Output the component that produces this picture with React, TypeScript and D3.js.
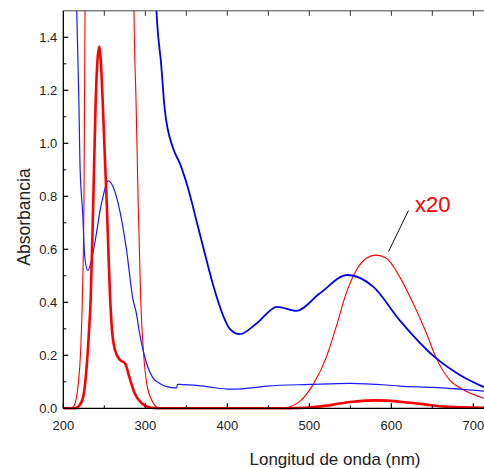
import React from "react";
import * as d3 from "d3";

// wavelength (nm) / absorbance pairs
const blueThinNm = [213, 216.4, 219, 220.2, 222.2, 223.4, 226.2, 230, 234.4, 240.4, 244.5, 248.5, 254.6, 260.7, 266.8, 277, 285, 289, 293, 301.5, 309.5, 317.7, 326, 338, 339.3, 341, 374.6, 403, 435.6, 447.8, 500.6, 549.4, 594, 610, 651, 713];
const blueThinAbs = [2.2, 1.5, 1.16, 0.94, 0.8, 0.75, 0.57, 0.52, 0.56, 0.66, 0.74, 0.8, 0.858, 0.836, 0.774, 0.6, 0.41, 0.36, 0.284, 0.171, 0.114, 0.094, 0.082, 0.077, 0.09, 0.09, 0.082, 0.072, 0.079, 0.084, 0.09, 0.094, 0.088, 0.084, 0.079, 0.065];

const blueThickNm = [311, 313.6, 319.4, 323.8, 334, 342, 354, 363, 372.5, 382.7, 394.9, 403, 415.2, 435.6, 460.7, 484.5, 512.8, 546.6, 577.8, 610, 653.8, 683.5, 713];
const blueThickAbs = [1.7, 1.5, 1.295, 1.126, 0.98, 0.925, 0.81, 0.7, 0.585, 0.465, 0.35, 0.3, 0.28, 0.32, 0.383, 0.368, 0.434, 0.503, 0.459, 0.333, 0.191, 0.126, 0.08];

const redThinNm = [200, 208, 212.2, 216, 218.3, 221.2, 223.2, 225.2, 226.5, 228, 235, 280, 284.5, 286.2, 288.7, 291.5, 294.5, 297.6, 301.7, 307.8, 313.9, 320, 460, 470, 488, 505.5, 521, 533, 545, 557.5, 569.6, 581, 594, 610, 626.6, 642.8, 654, 671, 687.6, 713];
const redThinAbs = [0, 0, 0.006, 0.04, 0.094, 0.22, 0.41, 0.79, 1.5, 2.4, 6, 6, 2.4, 1.5, 1.16, 0.75, 0.4, 0.22, 0.094, 0.031, 0.005, 0, 0, 0.002, 0.025, 0.094, 0.195, 0.31, 0.434, 0.522, 0.566, 0.578, 0.566, 0.497, 0.396, 0.283, 0.195, 0.107, 0.07, 0.038];

const redThickNm = [200, 214, 216.3, 220, 224.4, 228.5, 231.7, 233.4, 236.6, 239.5, 243.9, 248, 250, 253, 257.5, 259, 263, 269.3, 275.2, 281, 287, 295.6, 305.7, 315, 470, 485, 505.5, 521, 533, 545, 557.5, 569.6, 581, 594, 610, 626.6, 642.8, 654, 671, 687.6, 713];
const redThickAbs = [0, 0, 0.002, 0.012, 0.044, 0.157, 0.31, 0.41, 0.79, 1.16, 1.365, 1.16, 1.0, 0.77, 0.39, 0.31, 0.22, 0.182, 0.17, 0.113, 0.057, 0.019, 0.003, 0, 0, 0.001, 0.005, 0.01, 0.016, 0.022, 0.026, 0.029, 0.03, 0.029, 0.025, 0.02, 0.014, 0.0098, 0.0055, 0.0036, 0.002];

const yTickLabels = ["0.0", "0.2", "0.4", "0.6", "0.8", "1.0", "1.2", "1.4"];
const xTickLabels = ["200", "300", "400", "500", "600", "700"];

const W = 484;
const H = 468;
const FONT = "'Liberation Sans', Arial, sans-serif";

const x = d3.scaleLinear().domain([200, 713]).range([63.3, 484]);
const y = d3.scaleLinear().domain([0, 1.5]).range([408.3, 10.8]);

const line = d3
  .line<[number, number]>()
  .x(d => x(d[0]))
  .y(d => y(d[1]))
  .curve(d3.curveMonotoneX);

const zip = (a: number[], b: number[]) => a.map((v, i) => [v, b[i]] as [number, number]);

const series = [
  { nm: redThinNm, abs: redThinAbs, color: "#ff0000", width: 1.1 },
  { nm: blueThinNm, abs: blueThinAbs, color: "#1a1aff", width: 1.2 },
  { nm: blueThickNm, abs: blueThickAbs, color: "#0000ee", width: 1.8 },
  { nm: redThickNm, abs: redThickAbs, color: "#ff0000", width: 2.6 },
];

export default function App() {
  const x0 = x.range()[0];
  const y0 = y.range()[0];
  const yTop = y.range()[1];

  const yMinor = d3.range(0.1, 1.5, 0.2);
  const xMinor = d3.range(250, 713, 100);
  const xTop = d3.range(250, 713, 50);

  return (
    <svg width={W} height={H} style={{ position: "absolute", left: 0, top: 0, background: "#fff" }}>
      <defs>
        <clipPath id="plot-clip">
          <rect x={x0} y={yTop} width={W - x0} height={y0 - yTop + 6} />
        </clipPath>
      </defs>

      {/* spectra */}
      <g clipPath="url(#plot-clip)" fill="none">
        {series.map((s, i) => (
          <path key={i} d={line(zip(s.nm, s.abs)) || ""} stroke={s.color} strokeWidth={s.width} strokeLinejoin="round" />
        ))}
      </g>

      {/* top frame line with ticks */}
      <line x1={x0} x2={W} y1={yTop} y2={yTop} stroke="#444" strokeWidth={1} />
      {xTop.map(v => (
        <line key={"t" + v} x1={x(v)} x2={x(v)} y1={yTop} y2={yTop + 5} stroke="#333" strokeWidth={1} />
      ))}

      {/* left axis */}
      <line x1={x0} x2={x0} y1={yTop} y2={y0} stroke="#000" strokeWidth={1.3} />
      {yTickLabels.map(t => (
        <g key={t}>
          <line x1={x0} x2={x0 + 5} y1={y(+t)} y2={y(+t)} stroke="#000" strokeWidth={1.2} />
          <text x={x0 - 6} y={y(+t)} dy="0.35em" textAnchor="end" fontFamily={FONT} fontSize={13} fill="#222">
            {t}
          </text>
        </g>
      ))}
      {yMinor.map(v => (
        <line key={"ym" + v} x1={x0} x2={x0 + 3} y1={y(v)} y2={y(v)} stroke="#000" strokeWidth={1} />
      ))}

      {/* bottom axis */}
      <line x1={x0} x2={W} y1={y0} y2={y0} stroke="#000" strokeWidth={1.3} />
      {xTickLabels.map(t => (
        <g key={t}>
          <line x1={x(+t)} x2={x(+t)} y1={y0} y2={y0 - 5} stroke="#000" strokeWidth={1.2} />
          <text x={x(+t)} y={430} textAnchor="middle" fontFamily={FONT} fontSize={13} fill="#222">
            {t}
          </text>
        </g>
      ))}
      {xMinor.map(v => (
        <line key={"xm" + v} x1={x(v)} x2={x(v)} y1={y0} y2={y0 - 3} stroke="#000" strokeWidth={1} />
      ))}

      {/* axis titles */}
      <text transform="translate(30,217) rotate(-90)" textAnchor="middle" fontFamily={FONT} fontSize={17.5} fill="#222">
        Absorbancia
      </text>
      <text x={335} y={465} textAnchor="middle" fontFamily={FONT} fontSize={17} fill="#222">
        Longitud de onda (nm)
      </text>

      {/* x20 annotation */}
      <line x1={408.5} y1={210.5} x2={388.5} y2={251.5} stroke="#111" strokeWidth={1} />
      <text x={415} y={212} fontFamily={FONT} fontSize={22} fill="#ff0000">
        x20
      </text>
    </svg>
  );
}
